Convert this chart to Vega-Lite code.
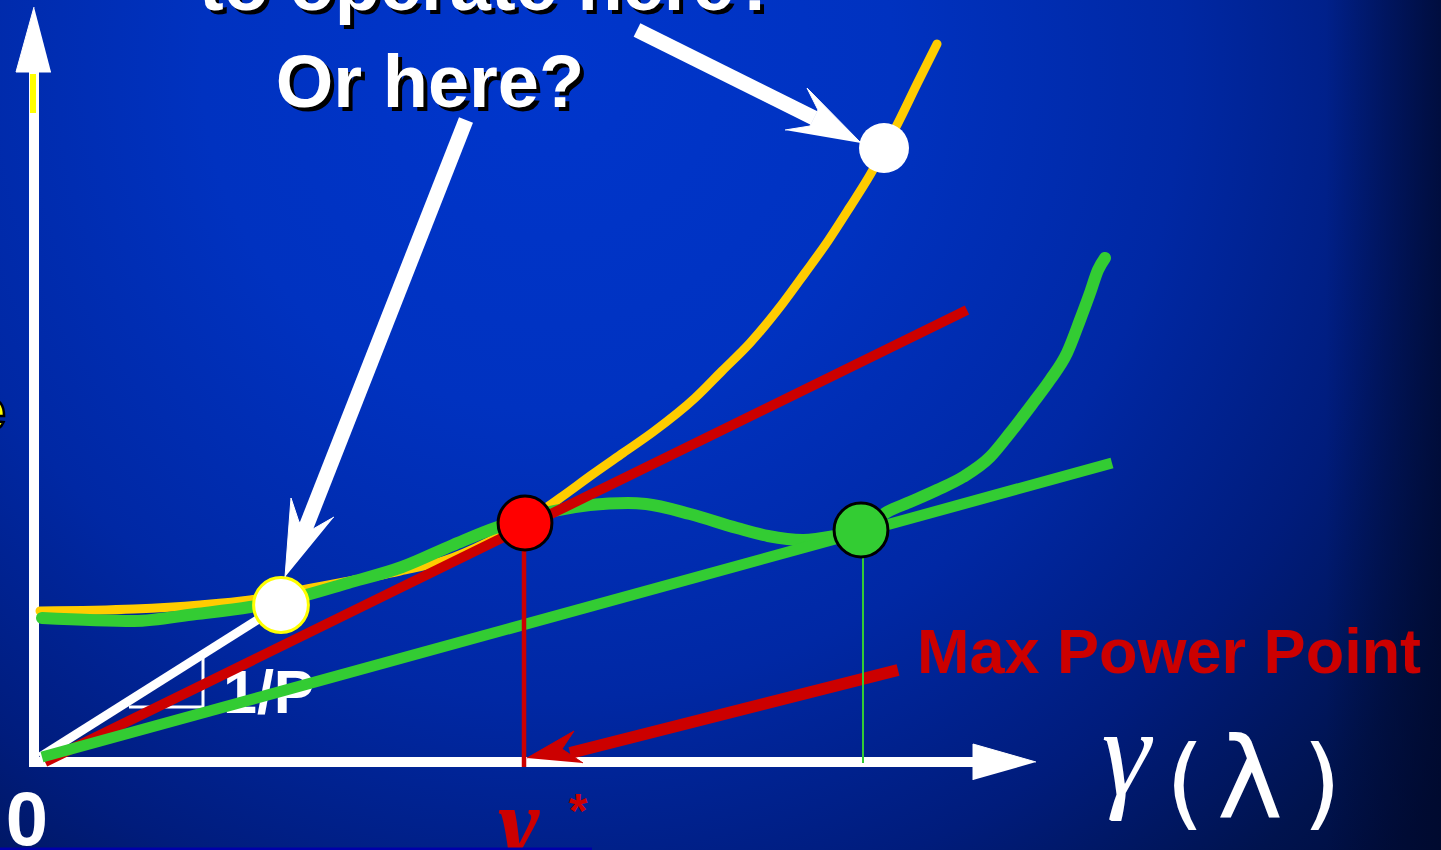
{
  "$schema": "https://vega.github.io/schema/vega-lite/v6.json",
  "width": 1441,
  "height": 850,
  "autosize": "none",
  "padding": 0,
  "background": "#001a70",
  "config": {"view": {"stroke": null}},
  "datasets": {
    "bg": [{"x": -35, "x2": 1406, "y": -88, "y2": 762}],
    "lines": [
      {"series": "axisY", "ord": 0, "x": -1, "y": -3},
      {"series": "axisY", "ord": 1, "x": -1, "y": 690},
      {"series": "axisX", "ord": 0, "x": -6, "y": 0},
      {"series": "axisX", "ord": 1, "x": 940, "y": 0},
      {"series": "ymark", "ord": 0, "x": -2, "y": 688},
      {"series": "ymark", "ord": 1, "x": -2, "y": 649},
      {"series": "tri", "ord": 0, "x": 94, "y": 55},
      {"series": "tri", "ord": 1, "x": 168, "y": 55},
      {"series": "tri", "ord": 2, "x": 168, "y": 104},
      {"series": "slope", "ord": 0, "x": 5, "y": 5},
      {"series": "slope", "ord": 1, "x": 246, "y": 157},
      {"series": "yellow", "ord": 0, "x": 5, "y": 151},
      {"series": "yellow", "ord": 1, "x": 99, "y": 153},
      {"series": "yellow", "ord": 2, "x": 165, "y": 157},
      {"series": "yellow", "ord": 3, "x": 215, "y": 162},
      {"series": "yellow", "ord": 4, "x": 277, "y": 174},
      {"series": "yellow", "ord": 5, "x": 365, "y": 191},
      {"series": "yellow", "ord": 6, "x": 411, "y": 202},
      {"series": "yellow", "ord": 7, "x": 453, "y": 220},
      {"series": "yellow", "ord": 8, "x": 490, "y": 240},
      {"series": "yellow", "ord": 9, "x": 525, "y": 264},
      {"series": "yellow", "ord": 10, "x": 558, "y": 288},
      {"series": "yellow", "ord": 11, "x": 588, "y": 309},
      {"series": "yellow", "ord": 12, "x": 618, "y": 330},
      {"series": "yellow", "ord": 13, "x": 660, "y": 364},
      {"series": "yellow", "ord": 14, "x": 687, "y": 391},
      {"series": "yellow", "ord": 15, "x": 715, "y": 419},
      {"series": "yellow", "ord": 16, "x": 748, "y": 459},
      {"series": "yellow", "ord": 17, "x": 770, "y": 489},
      {"series": "yellow", "ord": 18, "x": 793, "y": 521},
      {"series": "yellow", "ord": 19, "x": 815, "y": 555},
      {"series": "yellow", "ord": 20, "x": 835, "y": 587},
      {"series": "yellow", "ord": 21, "x": 849, "y": 612},
      {"series": "yellow", "ord": 22, "x": 865, "y": 643},
      {"series": "yellow", "ord": 23, "x": 882, "y": 678},
      {"series": "yellow", "ord": 24, "x": 902, "y": 718},
      {"series": "greenCurve", "ord": 0, "x": 7, "y": 144},
      {"series": "greenCurve", "ord": 1, "x": 99, "y": 141},
      {"series": "greenCurve", "ord": 2, "x": 161, "y": 148},
      {"series": "greenCurve", "ord": 3, "x": 215, "y": 155},
      {"series": "greenCurve", "ord": 4, "x": 260, "y": 164},
      {"series": "greenCurve", "ord": 5, "x": 313, "y": 179},
      {"series": "greenCurve", "ord": 6, "x": 367, "y": 195},
      {"series": "greenCurve", "ord": 7, "x": 418, "y": 217},
      {"series": "greenCurve", "ord": 8, "x": 463, "y": 235},
      {"series": "greenCurve", "ord": 9, "x": 490, "y": 243},
      {"series": "greenCurve", "ord": 10, "x": 519, "y": 251},
      {"series": "greenCurve", "ord": 11, "x": 555, "y": 257},
      {"series": "greenCurve", "ord": 12, "x": 593, "y": 259},
      {"series": "greenCurve", "ord": 13, "x": 611, "y": 258},
      {"series": "greenCurve", "ord": 14, "x": 655, "y": 248},
      {"series": "greenCurve", "ord": 15, "x": 702, "y": 234},
      {"series": "greenCurve", "ord": 16, "x": 733, "y": 226},
      {"series": "greenCurve", "ord": 17, "x": 768, "y": 222},
      {"series": "greenCurve", "ord": 18, "x": 800, "y": 226},
      {"series": "greenCurve", "ord": 19, "x": 826, "y": 232},
      {"series": "greenCurve", "ord": 20, "x": 852, "y": 250},
      {"series": "greenCurve", "ord": 21, "x": 875, "y": 260},
      {"series": "greenCurve", "ord": 22, "x": 902, "y": 272},
      {"series": "greenCurve", "ord": 23, "x": 928, "y": 285},
      {"series": "greenCurve", "ord": 24, "x": 955, "y": 305},
      {"series": "greenCurve", "ord": 25, "x": 975, "y": 329},
      {"series": "greenCurve", "ord": 26, "x": 998, "y": 359},
      {"series": "greenCurve", "ord": 27, "x": 1015, "y": 382},
      {"series": "greenCurve", "ord": 28, "x": 1032, "y": 409},
      {"series": "greenCurve", "ord": 29, "x": 1045, "y": 442},
      {"series": "greenCurve", "ord": 30, "x": 1055, "y": 469},
      {"series": "greenCurve", "ord": 31, "x": 1063, "y": 492},
      {"series": "greenCurve", "ord": 32, "x": 1070, "y": 504},
      {"series": "redLine", "ord": 0, "x": 10, "y": 0},
      {"series": "redLine", "ord": 1, "x": 932, "y": 452},
      {"series": "greenLine", "ord": 0, "x": 7, "y": 5},
      {"series": "greenLine", "ord": 1, "x": 1077, "y": 299},
      {"series": "redArrow", "ord": 0, "x": 863, "y": 92},
      {"series": "redArrow", "ord": 1, "x": 535, "y": 9},
      {"series": "redV", "ord": 0, "x": 489, "y": 214},
      {"series": "redV", "ord": 1, "x": 489, "y": -5},
      {"series": "greenV", "ord": 0, "x": 828, "y": 207},
      {"series": "greenV", "ord": 1, "x": 828, "y": -1},
      {"series": "whiteArrow1", "ord": 0, "x": 431, "y": 642},
      {"series": "whiteArrow1", "ord": 1, "x": 271, "y": 235},
      {"series": "whiteArrow2", "ord": 0, "x": 602, "y": 732},
      {"series": "whiteArrow2", "ord": 1, "x": 779, "y": 644},
      {"series": "bottomBlue", "ord": 0, "x": -35, "y": -87},
      {"series": "bottomBlue", "ord": 1, "x": 557, "y": -87}
    ],
    "polys": [
      {"id": "yHead", "ord": 0, "x": -1, "y": 755},
      {"id": "yHead", "ord": 1, "x": -19, "y": 690},
      {"id": "yHead", "ord": 2, "x": 16, "y": 690},
      {"id": "xHead", "ord": 0, "x": 1001, "y": 0},
      {"id": "xHead", "ord": 1, "x": 938, "y": 18},
      {"id": "xHead", "ord": 2, "x": 938, "y": -18},
      {"id": "head1", "ord": 0, "x": 250, "y": 185},
      {"id": "head1", "ord": 1, "x": 256, "y": 264},
      {"id": "head1", "ord": 2, "x": 264, "y": 240},
      {"id": "head1", "ord": 3, "x": 278, "y": 233},
      {"id": "head1", "ord": 4, "x": 299, "y": 245},
      {"id": "head2", "ord": 0, "x": 826, "y": 619},
      {"id": "head2", "ord": 1, "x": 772, "y": 674},
      {"id": "head2", "ord": 2, "x": 783, "y": 652},
      {"id": "head2", "ord": 3, "x": 775, "y": 636},
      {"id": "head2", "ord": 4, "x": 750, "y": 632},
      {"id": "redHead", "ord": 0, "x": 492, "y": 4},
      {"id": "redHead", "ord": 1, "x": 539, "y": 31},
      {"id": "redHead", "ord": 2, "x": 527, "y": 13},
      {"id": "redHead", "ord": 3, "x": 548, "y": -1}
    ],
    "circles": [
      {"kind": "red", "x": 490, "y": 239},
      {"kind": "green", "x": 826, "y": 232},
      {"kind": "whiteLeft", "x": 246, "y": 157},
      {"kind": "whiteRight", "x": 849, "y": 614}
    ],
    "texts": [
      {"kind": "title", "x": 454, "y": 752, "label": "to operate here?"},
      {"kind": "title", "x": 395, "y": 655, "label": "Or here?"},
      {"kind": "slope", "x": 188, "y": 49, "label": "1/P"},
      {"kind": "zero", "x": -8, "y": -83, "label": "0"},
      {"kind": "mpp", "x": 882, "y": 89, "label": "Max Power Point"},
      {"kind": "gammaBig", "x": 1091, "y": -32, "label": "γ"},
      {"kind": "lambda", "x": 1215, "y": -55, "label": "λ"},
      {"kind": "paren", "x": 1150, "y": -55, "label": "("},
      {"kind": "paren", "x": 1287, "y": -55, "label": ")"},
      {"kind": "gstar", "x": 484, "y": -94, "label": "γ"},
      {"kind": "star", "x": 543, "y": -65, "label": "*"},
      {"kind": "edge", "x": -29, "y": 332, "label": "e"}
    ]
  },
  "encoding": {
    "x": {"field": "x", "type": "quantitative", "scale": {"domain": [-35, 1406], "nice": false, "zero": false}, "axis": null},
    "y": {"field": "y", "type": "quantitative", "scale": {"domain": [-88, 762], "nice": false, "zero": false}, "axis": null}
  },
  "layer": [
    {
      "data": {"name": "bg"},
      "mark": {"type": "rect", "fill": {"gradient": "radial", "x1": 0.38, "y1": 0.25, "x2": 0.38, "y2": 0.25, "r1": 0, "r2": 0.8, "stops": [
        {"offset": 0, "color": "#0036cc"},
        {"offset": 0.3, "color": "#0032c0"},
        {"offset": 0.55, "color": "#0028a4"},
        {"offset": 0.75, "color": "#001c7c"},
        {"offset": 0.92, "color": "#00134e"},
        {"offset": 1, "color": "#000e40"}
      ]}},
      "encoding": {"x2": {"field": "x2"}, "y2": {"field": "y2"}}
    },
    {
      "data": {"name": "bg"},
      "mark": {"type": "rect", "fill": {"gradient": "linear", "x1": 0.92, "y1": 0, "x2": 1, "y2": 0, "stops": [
        {"offset": 0, "color": "rgba(0,8,40,0)"},
        {"offset": 1, "color": "rgba(0,8,40,0.7)"}
      ]}},
      "encoding": {"x2": {"field": "x2"}, "y2": {"field": "y2"}}
    },
    {
      "data": {"name": "lines"},
      "transform": [{"filter": {"field": "series", "oneOf": ["axisY", "axisX"]}}],
      "mark": {"type": "line", "color": "#ffffff", "strokeWidth": 10, "strokeCap": "butt"},
      "encoding": {"detail": {"field": "series"}, "order": {"field": "ord"}}
    },
    {
      "data": {"name": "polys"},
      "transform": [{"filter": {"field": "id", "oneOf": ["yHead", "xHead"]}}],
      "mark": {"type": "line", "fill": "#ffffff", "stroke": "#ffffff", "strokeWidth": 1},
      "encoding": {"detail": {"field": "id"}, "order": {"field": "ord"}}
    },
    {
      "data": {"name": "lines"},
      "transform": [{"filter": {"field": "series", "equal": "ymark"}}],
      "mark": {"type": "line", "color": "#ffff00", "strokeWidth": 6, "strokeCap": "butt"},
      "encoding": {"order": {"field": "ord"}}
    },
    {
      "data": {"name": "lines"},
      "transform": [{"filter": {"field": "series", "equal": "tri"}}],
      "mark": {"type": "line", "color": "#ffffff", "strokeWidth": 3, "strokeCap": "butt"},
      "encoding": {"order": {"field": "ord"}}
    },
    {
      "data": {"name": "texts"},
      "transform": [{"filter": {"field": "kind", "equal": "slope"}}],
      "mark": {"type": "text", "font": "Liberation Sans", "fontWeight": "bold", "fontSize": 61, "color": "#ffffff", "align": "left", "baseline": "alphabetic"},
      "encoding": {"text": {"field": "label"}}
    },
    {
      "data": {"name": "lines"},
      "transform": [{"filter": {"field": "series", "equal": "slope"}}],
      "mark": {"type": "line", "color": "#ffffff", "strokeWidth": 9, "strokeCap": "butt"},
      "encoding": {"order": {"field": "ord"}}
    },
    {
      "data": {"name": "lines"},
      "transform": [{"filter": {"field": "series", "equal": "yellow"}}],
      "mark": {"type": "line", "color": "#ffcc00", "strokeWidth": 9, "strokeCap": "round", "interpolate": "monotone"},
      "encoding": {"order": {"field": "ord"}}
    },
    {
      "data": {"name": "lines"},
      "transform": [{"filter": {"field": "series", "equal": "greenCurve"}}],
      "mark": {"type": "line", "color": "#33cc33", "strokeWidth": 12, "strokeCap": "round", "interpolate": "monotone"},
      "encoding": {"order": {"field": "ord"}}
    },
    {
      "data": {"name": "lines"},
      "transform": [{"filter": {"field": "series", "equal": "redLine"}}],
      "mark": {"type": "line", "color": "#cc0000", "strokeWidth": 10, "strokeCap": "butt"},
      "encoding": {"order": {"field": "ord"}}
    },
    {
      "data": {"name": "lines"},
      "transform": [{"filter": {"field": "series", "equal": "greenLine"}}],
      "mark": {"type": "line", "color": "#33cc33", "strokeWidth": 11, "strokeCap": "butt"},
      "encoding": {"order": {"field": "ord"}}
    },
    {
      "data": {"name": "lines"},
      "transform": [{"filter": {"field": "series", "equal": "redArrow"}}],
      "mark": {"type": "line", "color": "#cc0000", "strokeWidth": 12, "strokeCap": "butt"},
      "encoding": {"order": {"field": "ord"}}
    },
    {
      "data": {"name": "polys"},
      "transform": [{"filter": {"field": "id", "equal": "redHead"}}],
      "mark": {"type": "line", "fill": "#cc0000", "stroke": "#cc0000", "strokeWidth": 1},
      "encoding": {"order": {"field": "ord"}}
    },
    {
      "data": {"name": "lines"},
      "transform": [{"filter": {"field": "series", "equal": "redV"}}],
      "mark": {"type": "line", "color": "#cc0000", "strokeWidth": 4.5, "strokeCap": "butt"},
      "encoding": {"order": {"field": "ord"}}
    },
    {
      "data": {"name": "lines"},
      "transform": [{"filter": {"field": "series", "equal": "greenV"}}],
      "mark": {"type": "line", "color": "#33cc33", "strokeWidth": 2, "strokeCap": "butt"},
      "encoding": {"order": {"field": "ord"}}
    },
    {
      "data": {"name": "circles"},
      "transform": [{"filter": {"field": "kind", "equal": "red"}}],
      "mark": {"type": "point", "shape": "circle", "filled": true, "fill": "#ff0000", "stroke": "#000000", "strokeWidth": 3, "size": 2900, "opacity": 1}
    },
    {
      "data": {"name": "circles"},
      "transform": [{"filter": {"field": "kind", "equal": "green"}}],
      "mark": {"type": "point", "shape": "circle", "filled": true, "fill": "#33cc33", "stroke": "#000000", "strokeWidth": 3, "size": 2900, "opacity": 1}
    },
    {
      "data": {"name": "circles"},
      "transform": [{"filter": {"field": "kind", "equal": "whiteLeft"}}],
      "mark": {"type": "point", "shape": "circle", "filled": true, "fill": "#ffffff", "stroke": "#ffff00", "strokeWidth": 3, "size": 3000, "opacity": 1}
    },
    {
      "data": {"name": "circles"},
      "transform": [{"filter": {"field": "kind", "equal": "whiteRight"}}],
      "mark": {"type": "point", "shape": "circle", "filled": true, "fill": "#ffffff", "size": 2500, "opacity": 1}
    },
    {
      "data": {"name": "lines"},
      "transform": [{"filter": {"field": "series", "oneOf": ["whiteArrow1", "whiteArrow2"]}}],
      "mark": {"type": "line", "color": "#ffffff", "strokeWidth": 15, "strokeCap": "butt"},
      "encoding": {"detail": {"field": "series"}, "order": {"field": "ord"}}
    },
    {
      "data": {"name": "polys"},
      "transform": [{"filter": {"field": "id", "oneOf": ["head1", "head2"]}}],
      "mark": {"type": "line", "fill": "#ffffff", "stroke": "#ffffff", "strokeWidth": 1},
      "encoding": {"detail": {"field": "id"}, "order": {"field": "ord"}}
    },
    {
      "data": {"name": "texts"},
      "transform": [{"filter": {"field": "kind", "equal": "title"}}],
      "mark": {"type": "text", "font": "Liberation Sans", "fontWeight": "bold", "fontSize": 74, "color": "#000000", "align": "center", "baseline": "alphabetic", "dx": 4, "dy": 4},
      "encoding": {"text": {"field": "label"}}
    },
    {
      "data": {"name": "texts"},
      "transform": [{"filter": {"field": "kind", "equal": "title"}}],
      "mark": {"type": "text", "font": "Liberation Sans", "fontWeight": "bold", "fontSize": 74, "color": "#ffffff", "align": "center", "baseline": "alphabetic"},
      "encoding": {"text": {"field": "label"}}
    },
    {
      "data": {"name": "texts"},
      "transform": [{"filter": {"field": "kind", "equal": "zero"}}],
      "mark": {"type": "text", "font": "Liberation Sans", "fontWeight": "bold", "fontSize": 76, "color": "#ffffff", "align": "center", "baseline": "alphabetic"},
      "encoding": {"text": {"field": "label"}}
    },
    {
      "data": {"name": "texts"},
      "transform": [{"filter": {"field": "kind", "equal": "mpp"}}],
      "mark": {"type": "text", "font": "Liberation Sans", "fontWeight": "bold", "fontSize": 63, "color": "#cc0000", "align": "left", "baseline": "alphabetic"},
      "encoding": {"text": {"field": "label"}}
    },
    {
      "data": {"name": "texts"},
      "transform": [{"filter": {"field": "kind", "equal": "gammaBig"}}],
      "mark": {"type": "text", "font": "Liberation Serif", "fontStyle": "italic", "fontSize": 124, "color": "#ffffff", "align": "center", "baseline": "alphabetic"},
      "encoding": {"text": {"field": "label"}}
    },
    {
      "data": {"name": "texts"},
      "transform": [{"filter": {"field": "kind", "equal": "lambda"}}],
      "mark": {"type": "text", "font": "DejaVu Sans", "fontSize": 112, "color": "#ffffff", "align": "center", "baseline": "alphabetic"},
      "encoding": {"text": {"field": "label"}}
    },
    {
      "data": {"name": "texts"},
      "transform": [{"filter": {"field": "kind", "equal": "paren"}}],
      "mark": {"type": "text", "font": "DejaVu Sans", "fontSize": 100, "color": "#ffffff", "align": "center", "baseline": "alphabetic"},
      "encoding": {"text": {"field": "label"}}
    },
    {
      "data": {"name": "texts"},
      "transform": [{"filter": {"field": "kind", "equal": "gstar"}}],
      "mark": {"type": "text", "font": "Liberation Serif", "fontStyle": "italic", "fontWeight": "bold", "fontSize": 100, "color": "#cc0000", "align": "center", "baseline": "alphabetic"},
      "encoding": {"text": {"field": "label"}}
    },
    {
      "data": {"name": "texts"},
      "transform": [{"filter": {"field": "kind", "equal": "star"}}],
      "mark": {"type": "text", "font": "Liberation Sans", "fontWeight": "bold", "fontSize": 48, "color": "#cc0000", "align": "center", "baseline": "alphabetic"},
      "encoding": {"text": {"field": "label"}}
    },
    {
      "data": {"name": "texts"},
      "transform": [{"filter": {"field": "kind", "equal": "edge"}}],
      "mark": {"type": "text", "font": "Liberation Sans", "fontWeight": "bold", "fontSize": 60, "fill": "#ffff00", "stroke": "#000000", "strokeWidth": 2.5, "align": "right", "baseline": "alphabetic"},
      "encoding": {"text": {"field": "label"}}
    },
    {
      "data": {"name": "lines"},
      "transform": [{"filter": {"field": "series", "equal": "bottomBlue"}}],
      "mark": {"type": "line", "color": "#0000aa", "strokeWidth": 3, "strokeCap": "butt"},
      "encoding": {"order": {"field": "ord"}}
    }
  ]
}
